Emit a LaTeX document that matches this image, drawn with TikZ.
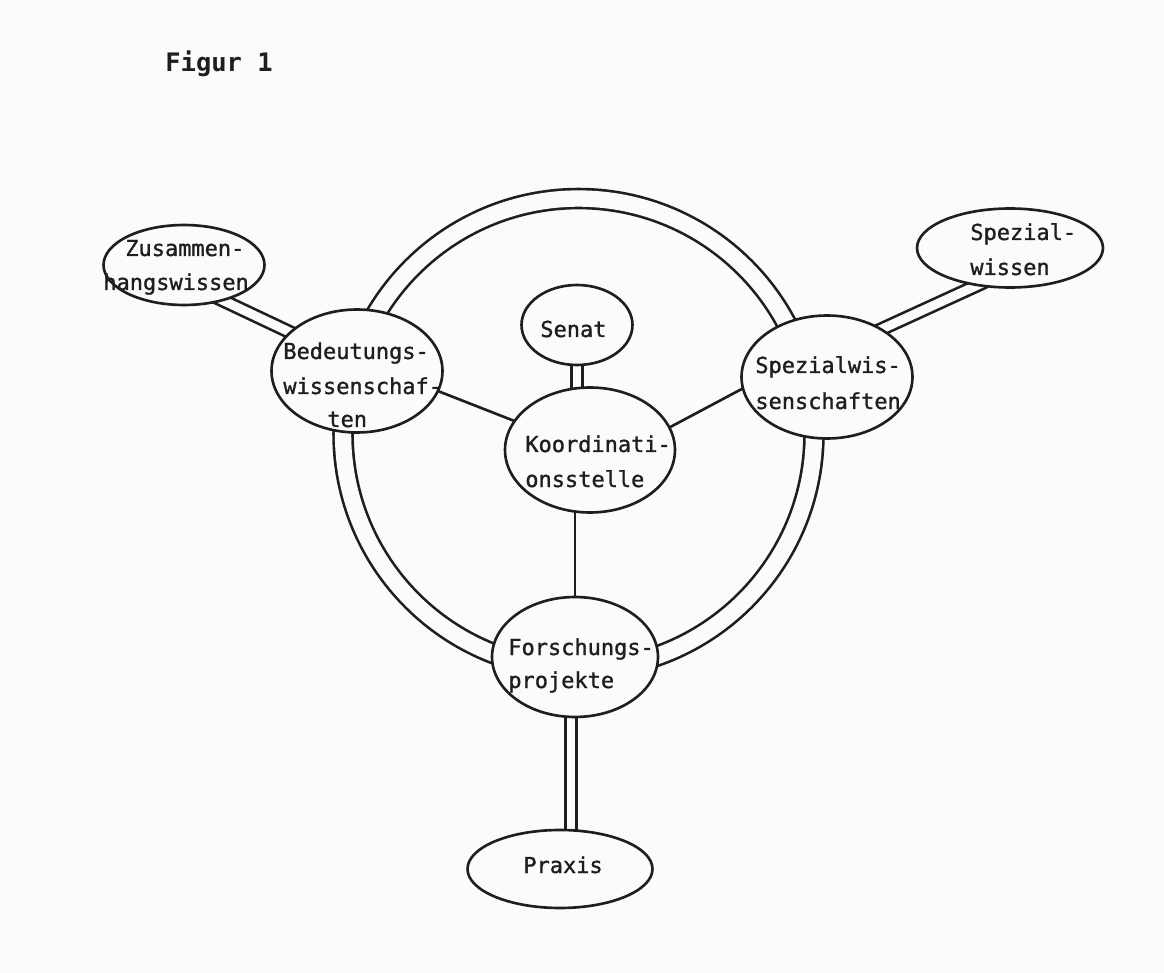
\documentclass[tikz,border=0pt]{standalone}
\usepackage{fontspec}
\newfontfamily\typew[FakeBold=1.2]{DejaVu Sans Mono}
\newfontfamily\typewbold{DejaVu Sans Mono Bold}
\usetikzlibrary{shapes.geometric,backgrounds,calc}
\definecolor{ink}{HTML}{1E1E1E}
\definecolor{paper}{HTML}{FBFBFB}
\begin{document}
\begin{tikzpicture}[x=0.02cm,y=-0.02cm,
  oval/.style={ellipse,draw=ink,line width=1.5pt,fill=paper,inner sep=0pt},
  lbl/.style={inner sep=0pt,anchor=base west,text=ink,font=\typew\fontsize{12.5}{15}\selectfont},
  figlbl/.style={inner sep=0pt,anchor=base west,text=ink,font=\typewbold\fontsize{14.5}{17}\selectfont},
  one/.style={draw=ink,line width=1.5pt},
  two/.style={draw=ink,line width=1.5pt,double=paper,double distance=5.1pt},
  ring/.style={draw=ink,line width=1.5pt,double=paper,double distance=9.3pt},
  ext/.style={shorten <=-6pt,shorten >=-6pt}]
\useasboundingbox (0,0) rectangle (1164,973);
% ellipses
\node[oval,minimum width=3.22cm,minimum height=1.6cm] (zus) at (184,265) {};
\node[oval,minimum width=3.42cm,minimum height=2.46cm] (bed) at (357,371) {};
\node[oval,minimum width=2.22cm,minimum height=1.6cm] (sen) at (577,325) {};
\node[oval,minimum width=3.4cm,minimum height=2.5cm] (koo) at (590,450) {};
\node[oval,minimum width=3.42cm,minimum height=2.46cm] (spw) at (827,377) {};
\node[oval,minimum width=3.72cm,minimum height=1.58cm] (spz) at (1010,248) {};
\node[oval,minimum width=3.32cm,minimum height=2.4cm] (for) at (575,657) {};
\node[oval,minimum width=3.7cm,minimum height=1.56cm] (pra) at (560,869) {};
% labels
\node[figlbl] (fig) at (165,72) {Figur 1};
\node[lbl] (zus1) at (125,256) {Zusammen-};
\node[lbl] (zus2) at (103,290) {hangswissen};
\node[lbl] (bed1) at (283,359) {Bedeutungs-};
\node[lbl] (bed2) at (283,394) {wissenschaf-};
\node[lbl] (bed3) at (327,427) {ten};
\node[lbl] (sen1) at (540,337) {Senat};
\node[lbl] (koo1) at (525,452) {Koordinati-};
\node[lbl] (koo2) at (525,487) {onsstelle};
\node[lbl] (spw1) at (755,373) {Spezialwis-};
\node[lbl] (spw2) at (755,409) {senschaften};
\node[lbl] (spz1) at (970,240) {Spezial-};
\node[lbl] (spz2) at (970,275) {wissen};
\node[lbl] (for1) at (508,655) {Forschungs-};
\node[lbl] (for2) at (508,688) {projekte};
\node[lbl] (pra1) at (523,873) {Praxis};
% connectors behind the ellipses
\begin{pgfonlayer}{background}
\fill[paper] (0,0) rectangle (1164,973);
\draw[ring] (578.5,434) circle[radius=4.71cm];
\draw[two,ext] (zus.-42) -- (bed.150);
\draw[one,ext] (bed.-14) -- (koo.159);
\draw[two] (sen.center) -- (sen.center |- koo.center);
\draw[one,ext] (koo.16) -- (spw.188);
\draw[one] (for.center |- koo.center) -- (for.center);
\draw[two,ext] (spw.41) -- (spz.228);
\draw[two] ($(for.center)+(-4,0)$) -- ($(pra.center)+(11,0)$);
\end{pgfonlayer}
\end{tikzpicture}
\end{document}
